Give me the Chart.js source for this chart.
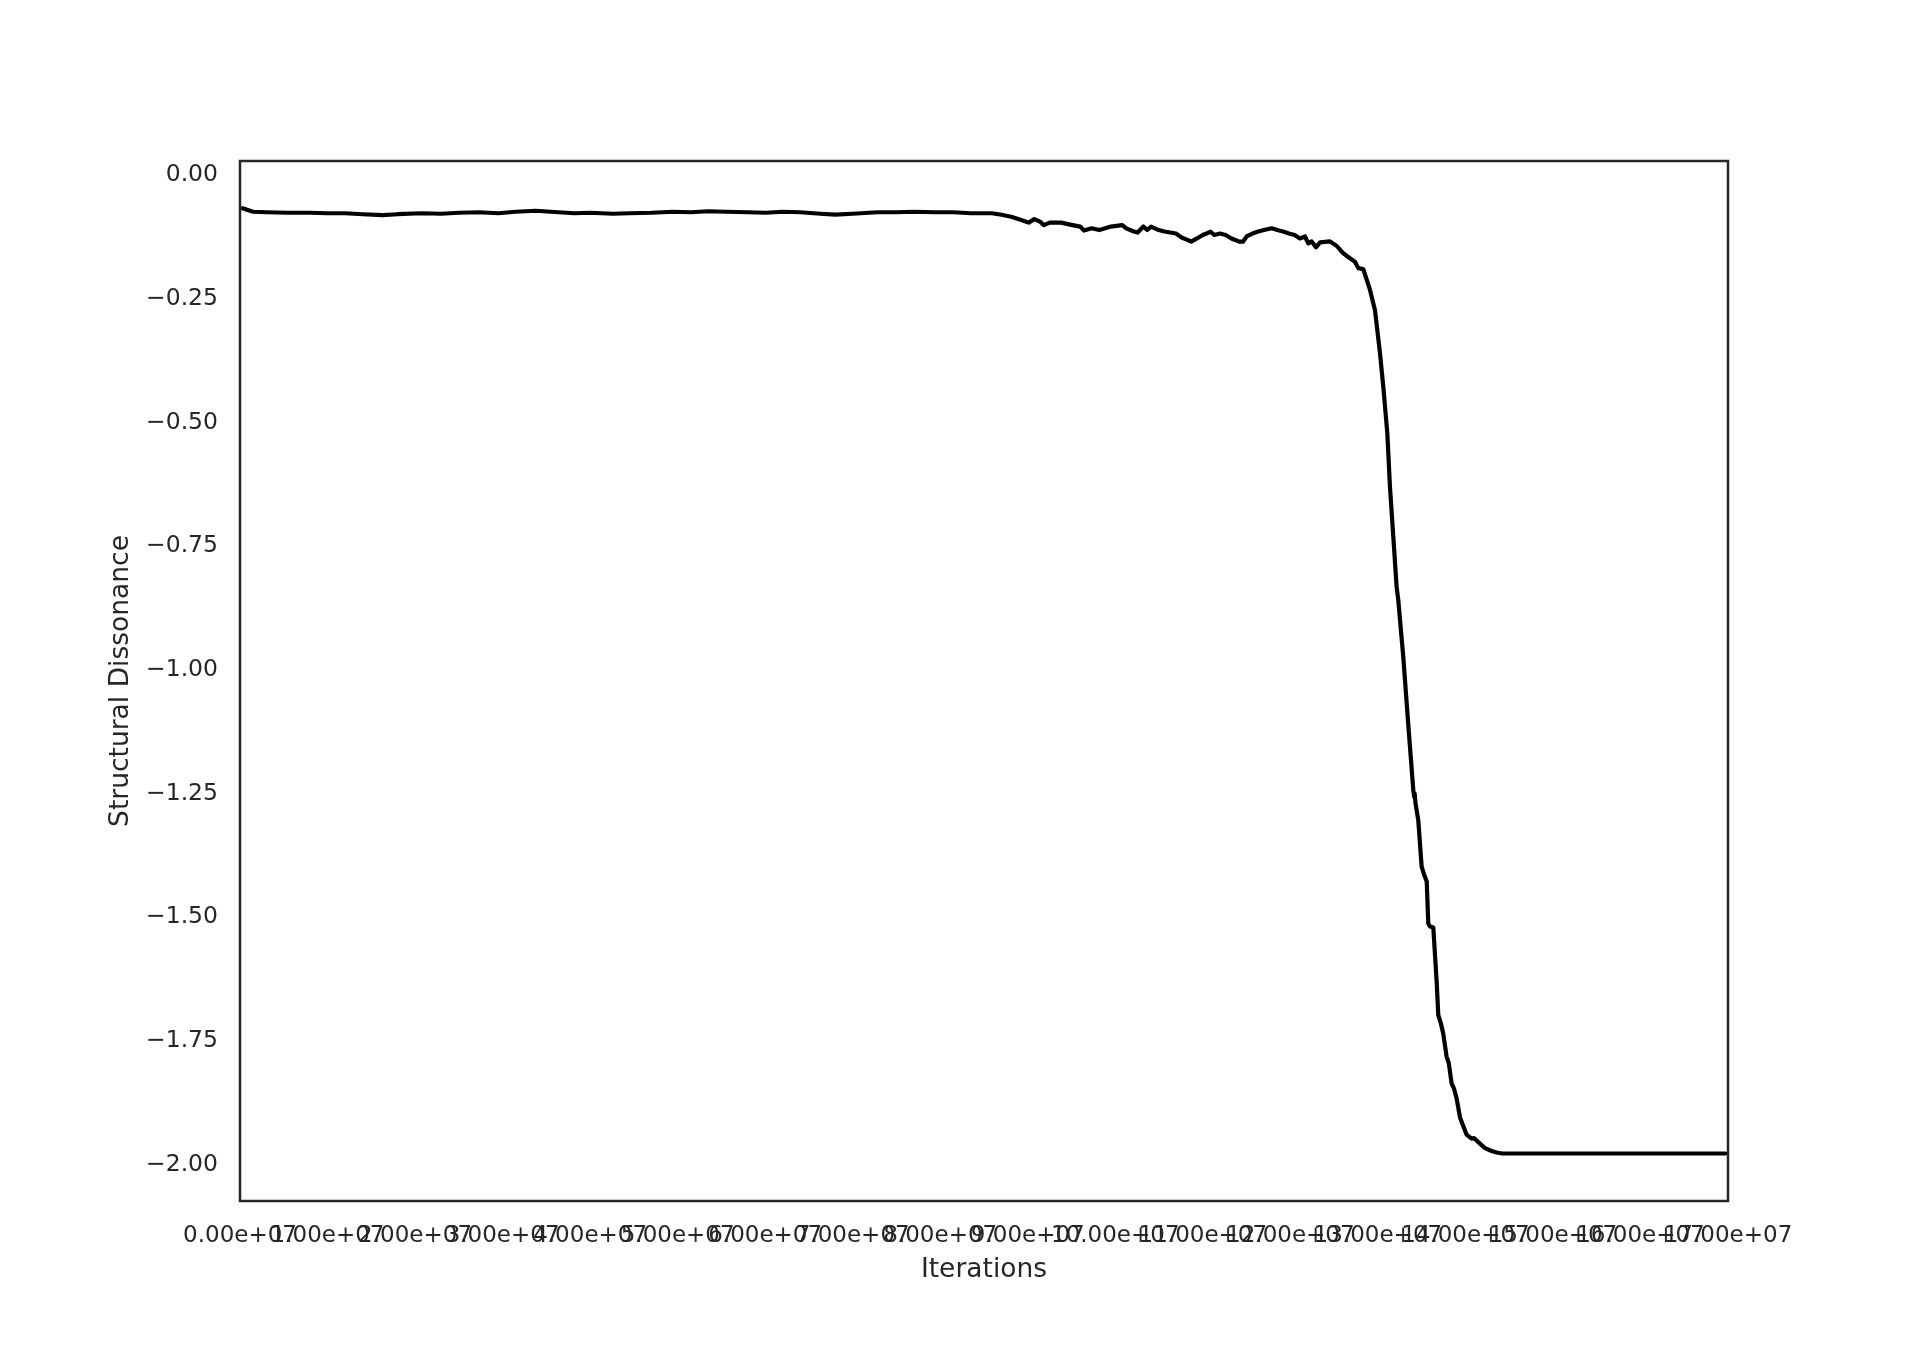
<!DOCTYPE html>
<html>
<head>
<meta charset="utf-8">
<script src="https://cdn.jsdelivr.net/npm/chart.js@4.4.1/dist/chart.umd.min.js"></script>
<style>
  html, body { margin: 0; padding: 0; background: #ffffff; }
  #wrap { width: 1920px; height: 1351px; position: relative; }
</style>
</head>
<body>
<div id="wrap"><canvas id="c"></canvas></div>
<script>
// ---- tick positions and labels ----
const xTickValues = [0,1,2,3,4,5,6,7,8,9,10,11,12,13,14,15,16,17];
const xTickLabels = ["0.00e+07","1.00e+07","2.00e+07","3.00e+07","4.00e+07","5.00e+07",
  "6.00e+07","7.00e+07","8.00e+07","9.00e+07","10.00e+07","11.00e+07","12.00e+07",
  "13.00e+07","14.00e+07","15.00e+07","16.00e+07","17.00e+07"];
const yTickValues = [0, -0.25, -0.5, -0.75, -1.0, -1.25, -1.5, -1.75, -2.0];
const yTickLabels = ["0.00","\u22120.25","\u22120.50","\u22120.75","\u22121.00",
  "\u22121.25","\u22121.50","\u22121.75","\u22122.00"];

// ---- series (x in units of 1e7 iterations) ----
const iterations = [
  0.03, 0.08, 0.15, 0.30, 0.55, 0.80, 1.00, 1.20, 1.40, 1.63, 1.80, 2.07, 2.30, 2.50, 2.73,
  2.95, 3.15, 3.38, 3.55, 3.82, 4.00, 4.26, 4.45, 4.70, 4.95, 5.15, 5.35, 5.55, 5.80, 6.01,
  6.20, 6.40, 6.63, 6.80, 7.00, 7.28, 7.50, 7.70, 7.94, 8.15, 8.35, 8.59, 8.70, 8.81, 8.90,
  9.01, 9.075, 9.14, 9.184, 9.25, 9.381, 9.512, 9.599, 9.643, 9.730, 9.818, 9.950, 10.080,
  10.125, 10.212, 10.255, 10.321, 10.365, 10.408, 10.496, 10.561, 10.692, 10.758, 10.824,
  10.867, 10.933, 10.999, 11.042, 11.086, 11.130, 11.195, 11.261, 11.327, 11.370, 11.414,
  11.458, 11.501, 11.567, 11.633, 11.698, 11.786, 11.851, 11.917, 11.983, 12.048, 12.110,
  12.167, 12.205, 12.243, 12.293, 12.339, 12.453, 12.529, 12.605, 12.681, 12.738, 12.776,
  12.833, 12.910, 12.967, 13.024, 13.062, 13.108, 13.138, 13.176, 13.214, 13.233, 13.290,
  13.348, 13.405, 13.415, 13.420, 13.430, 13.462, 13.500, 13.530, 13.558, 13.576, 13.595,
  13.633, 13.671, 13.690, 13.720, 13.747, 13.785, 13.810, 13.842, 13.870, 13.900, 13.938,
  13.970, 14.014, 14.071, 14.100, 14.166, 14.223, 14.300, 14.357, 14.420, 14.471, 14.600,
  15.000, 15.500, 16.000, 16.500, 16.970
];
const dissonance = [
  -0.072, -0.075, -0.079, -0.080, -0.081, -0.081, -0.082, -0.082, -0.084, -0.086, -0.084,
  -0.082, -0.083, -0.081, -0.080, -0.082, -0.079, -0.077, -0.079, -0.082, -0.081, -0.083,
  -0.082, -0.081, -0.079, -0.080, -0.078, -0.079, -0.080, -0.081, -0.079, -0.080, -0.083,
  -0.085, -0.083, -0.080, -0.080, -0.079, -0.080, -0.080, -0.082, -0.082, -0.085, -0.089,
  -0.094, -0.101, -0.094, -0.099, -0.106, -0.101, -0.101, -0.106, -0.109, -0.117, -0.1125,
  -0.116, -0.109, -0.106, -0.1125, -0.119, -0.121, -0.109, -0.116, -0.109, -0.116, -0.119,
  -0.123, -0.131, -0.136, -0.1395, -0.133, -0.126, -0.123, -0.119, -0.126, -0.123, -0.126,
  -0.133, -0.136, -0.1395, -0.1395, -0.129, -0.123, -0.119, -0.116, -0.1125, -0.116, -0.119,
  -0.123, -0.126, -0.133, -0.129, -0.143, -0.139, -0.151, -0.141, -0.139, -0.148, -0.163,
  -0.173, -0.180, -0.193, -0.195, -0.237, -0.278, -0.365, -0.433, -0.527, -0.635, -0.736,
  -0.837, -0.864, -0.979, -1.118, -1.249, -1.262, -1.255, -1.275, -1.310, -1.403, -1.420,
  -1.433, -1.518, -1.524, -1.526, -1.634, -1.703, -1.720, -1.741, -1.787, -1.800, -1.841,
  -1.852, -1.872, -1.910, -1.925, -1.945, -1.953, -1.952, -1.963, -1.972, -1.978, -1.981,
  -1.983, -1.983, -1.983, -1.983, -1.983, -1.983, -1.983, -1.983
];

const points = iterations.map((x, i) => ({ x: x, y: dissonance[i] }));

const TEXT = '#262626';
const FONT = "'DejaVu Sans', 'Liberation Sans', sans-serif";

const framePlugin = {
  id: 'frame',
  afterDraw(chart) {
    const a = chart.chartArea, ctx = chart.ctx;
    ctx.save();
    ctx.strokeStyle = TEXT;
    ctx.lineWidth = 2.5;
    ctx.strokeRect(a.left, a.top, a.right - a.left, a.bottom - a.top);
    ctx.restore();
  }
};

new Chart(document.getElementById('c'), {
  type: 'line',
  data: {
    datasets: [{
      data: points,
      borderColor: '#000000',
      borderWidth: 4.2,
      pointRadius: 0,
      tension: 0,
      fill: false,
      borderJoinStyle: 'round',
      borderCapStyle: 'round'
    }]
  },
  plugins: [framePlugin],
  options: {
    responsive: true,
    maintainAspectRatio: false,
    devicePixelRatio: 1,
    animation: false,
    layout: { padding: { left: 105.5, right: 192, top: 161, bottom: 65 } },
    plugins: { legend: { display: false }, tooltip: { enabled: false } },
    scales: {
      x: {
        type: 'linear',
        min: 0,
        max: 17,
        afterBuildTicks: (s) => { s.ticks = xTickValues.map(v => ({ value: v })); },
        afterFit: (s) => { s.height = 85; },
        grid: { display: false, drawTicks: false },
        border: { display: false },
        ticks: {
          autoSkip: false,
          maxRotation: 0,
          minRotation: 0,
          padding: 21.5,
          color: TEXT,
          font: { family: FONT, size: 23 },
          callback: (value, index) => xTickLabels[index]
        },
        title: {
          display: true,
          text: 'Iterations',
          color: TEXT,
          padding: 0,
          font: { family: FONT, size: 26.5 }
        }
      },
      y: {
        type: 'linear',
        min: -2.079,
        max: 0.0236,
        afterBuildTicks: (s) => { s.ticks = yTickValues.map(v => ({ value: v })); },
        afterFit: (s) => { s.width = 134.5; },
        grid: { display: false, drawTicks: false },
        border: { display: false },
        ticks: {
          padding: 22,
          labelOffset: 2.5,
          color: TEXT,
          font: { family: FONT, size: 23.5 },
          callback: (value) => {
            const i = yTickValues.findIndex(v => Math.abs(v - value) < 1e-9);
            return i >= 0 ? yTickLabels[i] : '';
          }
        },
        title: {
          display: true,
          text: 'Structural Dissonance',
          color: TEXT,
          padding: 0,
          font: { family: FONT, size: 26.5 }
        }
      }
    }
  }
});
</script>
</body>
</html>
